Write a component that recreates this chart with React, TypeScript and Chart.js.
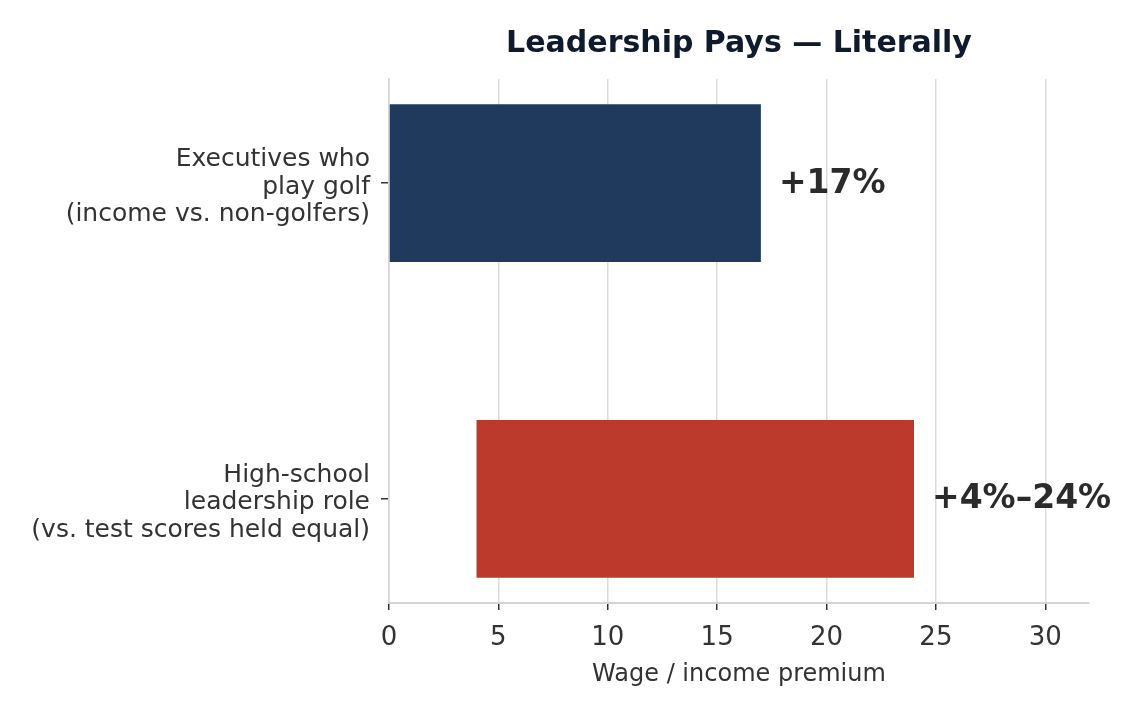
import React, { useEffect, useRef } from "react";
import { Chart, registerables } from "chart.js";

Chart.register(...registerables);

const chartTitle = "Leadership Pays — Literally";
const xAxisTitle = "Wage / income premium";
const categories: string[][] = [
  ["Executives who", "play golf", "(income vs. non-golfers)"],
  ["High-school", "leadership role", "(vs. test scores held equal)"],
];
const premiumLow = [0, 4];
const premiumHigh = [17, 24];
const valueLabels = ["+17%", "+4%–24%"];
const barColors = ["#1f3a5c", "#bc3a2c"];
const xTicks = [0, 5, 10, 15, 20, 25, 30];
const xMin = 0;
const xMax = 32;

const FONT = "'DejaVu Sans', sans-serif";

const valueLabelPlugin = {
  id: "valueLabels",
  afterDatasetsDraw(chart: any) {
    const ctx = chart.ctx;
    const meta = chart.getDatasetMeta(0);
    ctx.save();
    ctx.font = `bold 33px ${FONT}`;
    ctx.fillStyle = "#2b2b2b";
    ctx.textAlign = "left";
    ctx.textBaseline = "middle";
    meta.data.forEach((bar: any, i: number) => {
      ctx.fillText(valueLabels[i], bar.x + 18, bar.y + 1);
    });
    ctx.restore();
  },
};

export default function App() {
  const canvasRef = useRef<HTMLCanvasElement | null>(null);

  useEffect(() => {
    if (!canvasRef.current) return;
    const chart = new Chart(canvasRef.current, {
      type: "bar",
      data: {
        datasets: [
          {
            data: categories.map((_, i) => ({
              x: [premiumLow[i], premiumHigh[i]],
              y: i,
            })) as any,
            backgroundColor: barColors,
            borderWidth: 0,
            barPercentage: 0.5,
            categoryPercentage: 1,
          },
        ],
      },
      options: {
        indexAxis: "y",
        animation: false,
        responsive: true,
        maintainAspectRatio: false,
        layout: { padding: { left: 0, right: 53, top: 0, bottom: 0 } },
        plugins: {
          legend: { display: false },
          tooltip: { enabled: false },
          title: {
            display: true,
            text: chartTitle,
            fullSize: false,
            color: "#0f1b2d",
            font: { family: FONT, size: 30, weight: "bold" },
            padding: { top: 26, bottom: 17 },
          },
        },
        scales: {
          x: {
            type: "linear",
            min: xMin,
            max: xMax,
            afterBuildTicks: (scale: any) => {
              scale.ticks = xTicks.map((v) => ({ value: v }));
            },
            afterFit: (scale: any) => {
              scale.height = 113;
            },
            grid: {
              color: "#dcdcdc",
              lineWidth: 1.5,
              tickColor: "#333333",
              tickLength: 7,
              drawTicks: true,
            },
            border: { display: true, color: "#d4d4d4", width: 2 },
            ticks: {
              color: "#333333",
              font: { family: FONT, size: 26 },
              padding: 13,
              maxRotation: 0,
            },
            title: {
              display: true,
              text: xAxisTitle,
              color: "#333333",
              font: { family: FONT, size: 24 },
              padding: { top: 0, bottom: 27 },
            },
          },
          y: {
            type: "linear",
            min: -0.33,
            max: 1.33,
            reverse: true,
            offset: false,
            afterBuildTicks: (scale: any) => {
              scale.ticks = categories.map((_, i) => ({ value: i }));
            },
            afterFit: (scale: any) => {
              scale.width = 389;
            },
            grid: {
              display: true,
              offset: false,
              drawOnChartArea: false,
              drawTicks: true,
              tickLength: 8,
              tickColor: "#333333",
              lineWidth: 1.5,
            },
            border: { display: true, color: "#d4d4d4", width: 1.5 },
            ticks: {
              color: "#333333",
              font: { family: FONT, size: 25, lineHeight: 1.1 },
              padding: 11,
              labelOffset: 4,
              callback: (value: any) => categories[Number(value)] ?? "",
            },
          },
        },
      },
      plugins: [valueLabelPlugin],
    });
    return () => chart.destroy();
  }, []);

  return (
    <div style={{ position: "fixed", left: 0, top: 0, width: 1142, height: 716, background: "#ffffff" }}>
      <canvas ref={canvasRef} />
    </div>
  );
}
